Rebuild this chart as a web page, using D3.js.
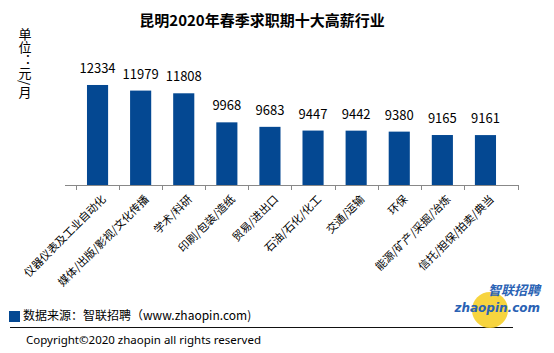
<!DOCTYPE html>
<html lang="zh">
<head>
<meta charset="UTF-8">
<title>昆明2020年春季求职期十大高薪行业</title>
<script src="https://d3js.org/d3.v7.min.js"></script>
<style>
    body { margin: 0; background: #fff; }
    svg { display: block; font-family: "Noto Sans CJK SC", "Noto Sans", sans-serif; }
</style>
</head>
<body>
<div id="chart"></div>
<script>
// data
const industries = ["仪器仪表及工业自动化", "媒体/出版/影视/文化传播", "学术/科研", "印刷/包装/造纸",
    "贸易/进出口", "石油/石化/化工", "交通/运输", "环保", "能源/矿产/采掘/冶炼", "信托/担保/拍卖/典当"];
const salaries = [12334, 11979, 11808, 9968, 9683, 9447, 9442, 9380, 9165, 9161];

const W = 554, H = 353;
const barColor = "#044892";

const svg = d3.select("#chart").append("svg")
    .attr("width", W).attr("height", H);

// title
svg.append("text")
    .attr("x", 262).attr("y", 26)
    .attr("text-anchor", "middle")
    .style("font-size", "15px").style("font-weight", "bold")
    .text("昆明2020年春季求职期十大高薪行业");

// unit label, vertical
svg.append("text")
    .attr("x", 25).attr("y", 28)
    .style("writing-mode", "vertical-rl")
    .style("font-size", "13px")
    .text("单位：元/月");

// scales
const x = d3.scaleBand().domain(industries).range([65, 518]).padding(0.51);
const y = d3.scaleLinear().domain([6000, 14000]).range([185, 185 - 8000 * 0.01579]);

// bars
svg.selectAll(".bar").data(industries).enter().append("rect")
    .attr("class", "bar")
    .attr("x", d => x(d))
    .attr("width", x.bandwidth())
    .attr("y", (d, i) => y(salaries[i]))
    .attr("height", (d, i) => y(6000) - y(salaries[i]))
    .attr("fill", barColor);

// value labels
svg.selectAll(".val").data(industries).enter().append("text")
    .attr("class", "val")
    .attr("x", d => x(d) + x.bandwidth() / 2)
    .attr("y", (d, i) => y(salaries[i]) - 12)
    .attr("text-anchor", "middle")
    .style("font-size", "13px")
    .text((d, i) => salaries[i]);

// x axis line + ticks at band edges
svg.append("line")
    .attr("x1", 65).attr("x2", 518).attr("y1", 185.5).attr("y2", 185.5)
    .attr("stroke", "#888").attr("stroke-width", 1);
const edges = industries.map(d => x(d) - x.step() * x.paddingInner() / 2).concat([518]);
svg.selectAll(".tick").data(edges).enter().append("line")
    .attr("x1", d => Math.round(d) + 0.5).attr("x2", d => Math.round(d) + 0.5)
    .attr("y1", 185).attr("y2", 190)
    .attr("stroke", "#888");

// category labels rotated
svg.selectAll(".cat").data(industries).enter().append("text")
    .attr("class", "cat")
    .attr("transform", d => `translate(${x(d) + x.bandwidth() / 2 + 9},${200}) rotate(-45)`)
    .attr("text-anchor", "end")
    .style("font-size", "11px")
    .text(d => d);

// source legend
svg.append("rect").attr("x", 9).attr("y", 311).attr("width", 11).attr("height", 11).attr("fill", barColor);
svg.append("text")
    .attr("x", 23).attr("y", 320)
    .style("font-size", "12px")
    .text("数据来源：智联招聘（www.zhaopin.com)");

svg.append("line")
    .attr("x1", 10).attr("x2", 513).attr("y1", 327.5).attr("y2", 327.5)
    .attr("stroke", "#111");

svg.append("text")
    .attr("x", 26).attr("y", 344)
    .style("font-family", "'Noto Sans', sans-serif")
    .style("font-size", "11.5px")
    .text("Copyright©2020 zhaopin all rights reserved");

// logo
const logo = svg.append("g");
logo.append("circle").attr("cx", 490).attr("cy", 310).attr("r", 18).attr("fill", "#f6cf2a").attr("opacity", 0.9);
logo.append("text")
    .attr("x", 540).attr("y", 295).attr("text-anchor", "end")
    .style("font-size", "13px").style("font-weight", "bold").style("font-style", "italic")
    .attr("fill", "#2a62b4")
    .text("智联招聘");
logo.append("text")
    .attr("x", 540).attr("y", 312).attr("text-anchor", "end")
    .style("font-family", "'DejaVu Sans', sans-serif")
    .style("font-size", "12px").style("font-weight", "bold").style("font-style", "italic")
    .attr("fill", "#2a62b4")
    .text("zhaopin.com");
</script>
</body>
</html>
